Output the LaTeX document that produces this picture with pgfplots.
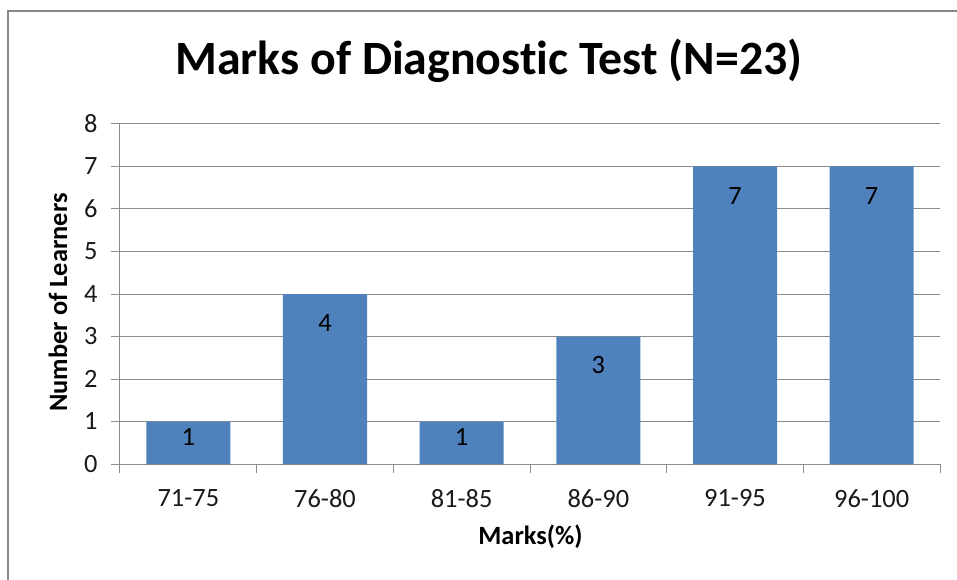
\documentclass[border=0pt]{standalone}
\usepackage{pgfplots}
\pgfplotsset{compat=1.18}
\usepackage{pgfplotstable}
\usepackage{fontspec}
\setmainfont[Ligatures=NoCommon]{Carlito}
\definecolor{barblue}{HTML}{4F81BD}
\definecolor{gridgray}{HTML}{8C8C8C}
\definecolor{framegray}{HTML}{888888}
\pgfplotstableread{
x y s
0 1 -15.5
1 4 -29.5
2 1 -15.5
3 3 -28.5
4 7 -29.5
5 7 -29.5
}\marks
\begin{document}
\begin{tikzpicture}
\begin{axis}[
  scale only axis,
  width=820bp, height=340bp,
  xmin=-0.5, xmax=5.5, ymin=0, ymax=8,
  ytick={0,1,...,8},
  xtick={0,1,2,3,4,5},
  xticklabels={71-75,76-80,81-85,86-90,91-95,96-100},
  minor xtick={-0.5,0.5,1.5,2.5,3.5,4.5,5.5},
  axis lines*=left,
  axis line style={gridgray, line width=1bp},
  tick align=outside,
  x tick style={draw=none},
  minor x tick style={draw=gridgray, line width=1bp},
  minor tick length=9bp,
  y tick style={draw=gridgray, line width=1bp},
  major tick length=9bp,
  ymajorgrids,
  grid style={gridgray, line width=1bp},
  /pgf/number format/assume math mode=true,
  ticklabel style={font=\fontsize{26.5}{30}\selectfont, text=black!90},
  yticklabel style={xshift=-10bp},
  xticklabel style={yshift=-13bp},
  title={Marks of Diagnostic Test (N=23)},
  title style={font=\fontsize{48}{56}\selectfont\bfseries, at={(axis description cs:0.45,1.129)}, anchor=base},
  xlabel={Marks(\%)},
  xlabel style={font=\fontsize{26.5}{30}\selectfont\bfseries, at={(axis description cs:0.5006,-0.238)}, anchor=base},
  ylabel={Number of Learners},
  ylabel style={font=\fontsize{26.5}{30}\selectfont\bfseries, at={(axis description cs:-0.0646,0.475)}, anchor=base},
  clip=false,
]
\addplot[ybar, bar width=84bp, fill=barblue, draw=none,
  nodes near coords,
  visualization depends on={\thisrow{s} \as \lshift},
  every node near coord/.append style={anchor=center, yshift=\lshift pt, font=\fontsize{26.5}{30}\selectfont, text=black}]
  table[x=x, y=y] {\marks};
\end{axis}
\draw[framegray, line width=2bp]
  ([xshift=-112bp,yshift=-120bp]current axis.south west) --
  ([xshift=-112bp,yshift=453bp]current axis.south west) --
  ([xshift=840bp,yshift=453bp]current axis.south west);
\pgfresetboundingbox
\useasboundingbox ([xshift=-120bp,yshift=-116bp]current axis.south west) rectangle ([xshift=837bp,yshift=464bp]current axis.south west);
\end{tikzpicture}
\end{document}
